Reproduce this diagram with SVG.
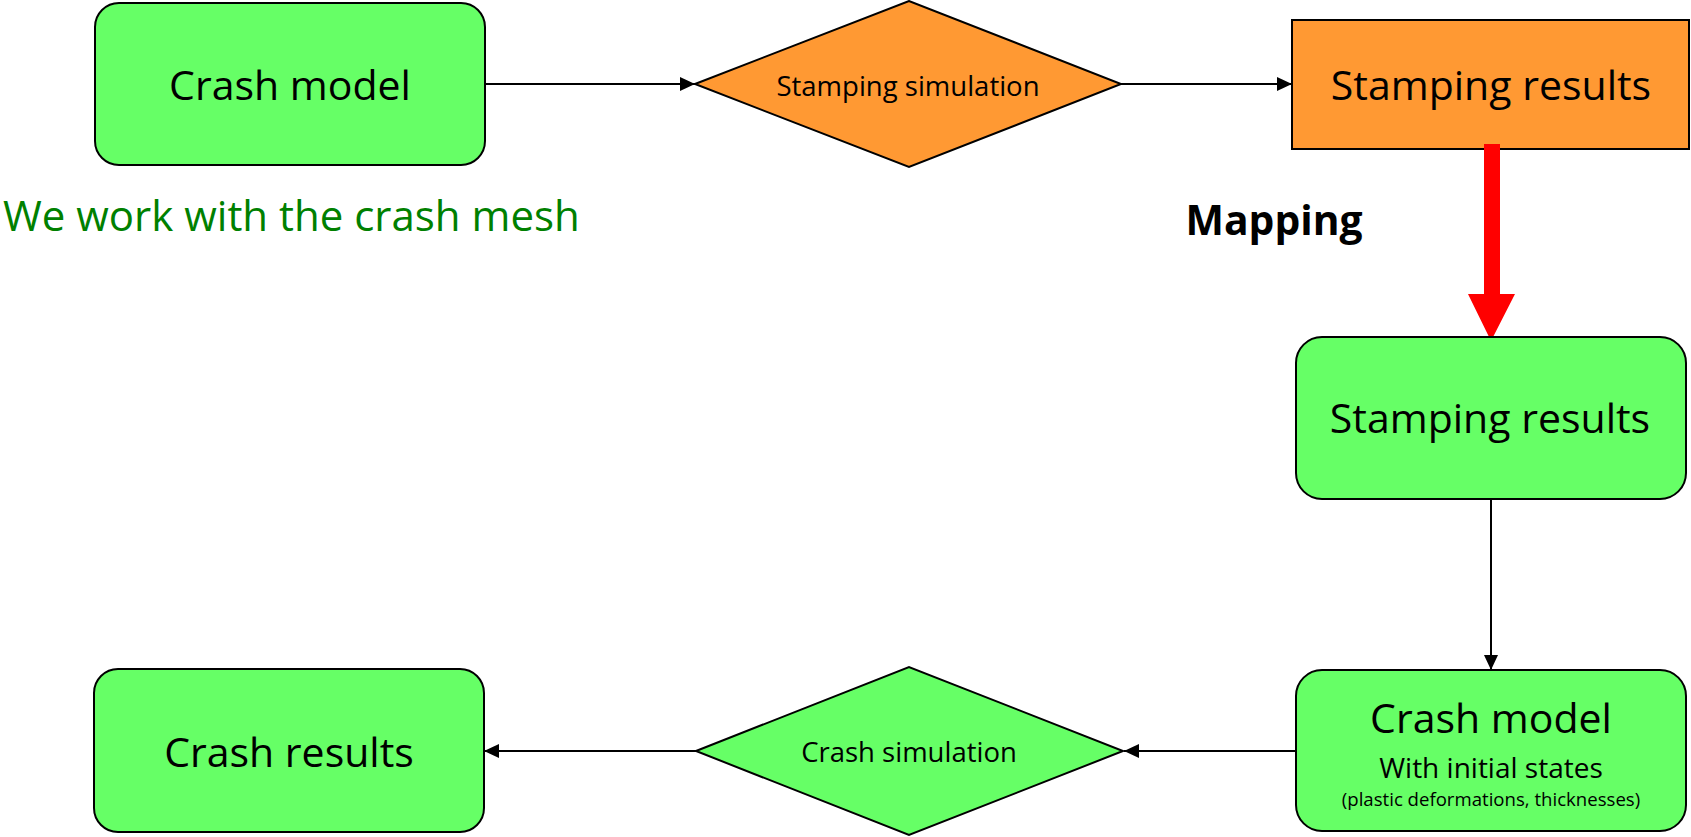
<svg xmlns="http://www.w3.org/2000/svg" width="1691" height="837" viewBox="0 0 1691 837">
  <style>
    .box { stroke: #000; stroke-width: 2; }
    .green { fill: #66FF66; }
    .orange { fill: #FF9933; }
    .label { font-family: "Open Sans", "Noto Sans", "Liberation Sans", sans-serif; fill: #000; text-anchor: middle; }
    .big { font-size: 41px; }
    .mid { font-size: 27.5px; }
    .link { fill: none; stroke: #000; stroke-width: 2; }
  </style>
  <defs>
    <marker id="arrow" markerUnits="userSpaceOnUse" markerWidth="15" markerHeight="14" refX="15" refY="7" orient="auto">
      <path d="M0,0 L15,7 L0,14 z" fill="#000"/>
    </marker>
  </defs>

  <rect width="1691" height="837" fill="#fff"/>

  <!-- connectors -->
  <g id="connectors">
    <path class="link" d="M485,84 L695,84" marker-end="url(#arrow)"/>
    <path class="link" d="M1121,84 L1292,84" marker-end="url(#arrow)"/>
    <path class="link" d="M1491,499 L1491,670" marker-end="url(#arrow)"/>
    <path class="link" d="M1296,751 L1124,751" marker-end="url(#arrow)"/>
    <path class="link" d="M696,751 L484,751" marker-end="url(#arrow)"/>
  </g>

  <!-- crash model (input) -->
  <g id="crash-model">
    <rect class="box green" x="95" y="3" width="390" height="162" rx="24" ry="24"/>
    <text class="label big" x="290" y="100">Crash model</text>
  </g>
  <text id="mesh-note" x="3" y="231" font-family="'Open Sans', 'Noto Sans', 'Liberation Sans', sans-serif" font-size="42" fill="#008000">We work with the crash mesh</text>

  <!-- stamping simulation -->
  <g id="stamping-simulation">
    <polygon class="box orange" points="695,84 909,1 1121,84 909,167"/>
    <text class="label mid" x="908" y="96">Stamping simulation</text>
  </g>

  <!-- stamping results (stamping mesh) -->
  <g id="stamping-results">
    <rect class="box orange" x="1292" y="20" width="397" height="129"/>
    <text class="label big" x="1491" y="100">Stamping results</text>
  </g>

  <!-- mapping step -->
  <g id="mapping">
    <path d="M1484,144 L1500,144 L1500,294 L1515,294 L1491,341 L1468,294 L1484,294 z" fill="#FF0000"/>
    <text x="1274" y="235" font-family="'Open Sans', 'Noto Sans', 'Liberation Sans', sans-serif" font-size="40.8" font-weight="bold" text-anchor="middle" fill="#000">Mapping</text>
  </g>

  <!-- stamping results (crash mesh) -->
  <g id="mapped-results">
    <rect class="box green" x="1296" y="337" width="390" height="162" rx="26" ry="26"/>
    <text class="label big" x="1490" y="433">Stamping results</text>
  </g>

  <!-- crash model with initial states -->
  <g id="crash-model-initial">
    <rect class="box green" x="1296" y="670" width="390" height="161" rx="26" ry="26"/>
    <text class="label big" x="1491" y="733">Crash model</text>
    <text class="label" x="1491" y="778" font-size="28">With initial states</text>
    <text class="label" x="1491" y="806" font-size="18.6">(plastic deformations, thicknesses)</text>
  </g>

  <!-- crash simulation -->
  <g id="crash-simulation">
    <polygon class="box green" points="696,751 909,667 1123,751 909,835"/>
    <text class="label mid" x="909" y="762">Crash simulation</text>
  </g>

  <!-- crash results -->
  <g id="crash-results">
    <rect class="box green" x="94" y="669" width="390" height="163" rx="24" ry="24"/>
    <text class="label big" x="289" y="767">Crash results</text>
  </g>
</svg>
